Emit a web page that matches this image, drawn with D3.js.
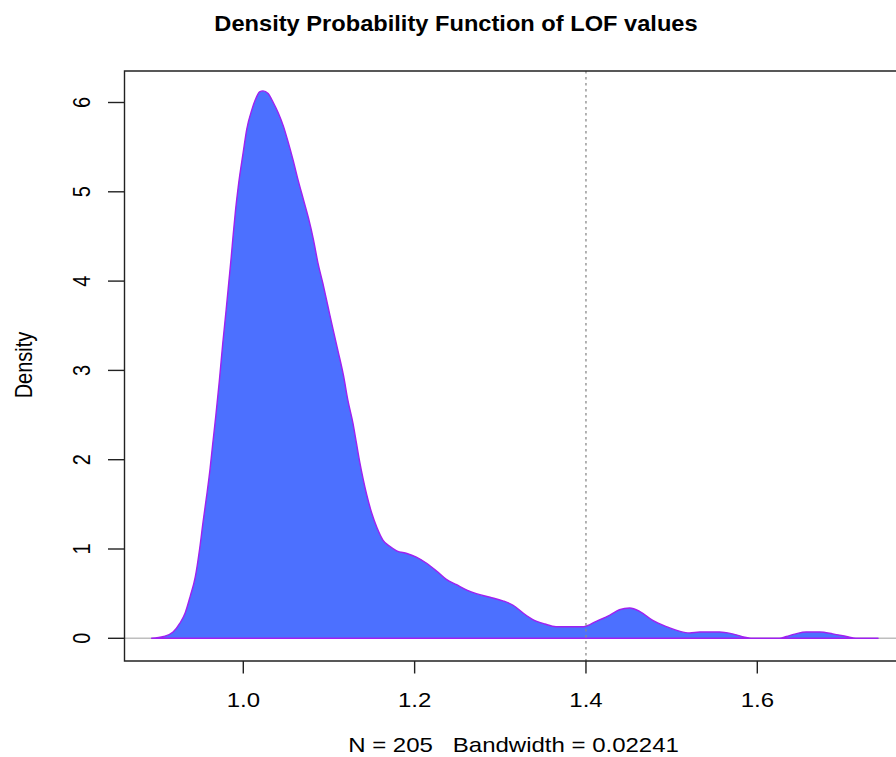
<!DOCTYPE html>
<html>
<head>
<meta charset="utf-8">
<script src="https://cdn.jsdelivr.net/npm/d3@7/dist/d3.min.js"></script>
<style>
  html, body { margin: 0; padding: 0; background: #fff; }
  svg { display: block; }
  text { font-family: "Liberation Sans", Arial, Helvetica, sans-serif; fill: #000; }
</style>
</head>
<body>
<svg id="chart" width="896" height="757"></svg>
<script>
// Kernel density estimate of LOF scores (N = 205, bw = 0.02241)
const lofValues = [
  0.893, 0.907, 0.918, 0.926, 0.932, 0.938, 0.944, 0.949, 0.953, 0.957,
  0.961, 0.964, 0.968, 0.972, 0.976, 0.980, 0.983, 0.986, 0.988, 0.991,
  0.994, 1.000, 1.004, 1.010, 1.014, 1.019, 1.023, 1.029, 1.035, 1.041,
  1.047, 1.052, 1.058, 1.064, 1.070, 1.076, 1.082, 1.087, 1.093, 1.099,
  1.105, 1.111, 1.117, 1.122, 1.128, 1.132, 1.136, 1.140, 1.144, 1.150,
  1.156, 1.163, 1.171, 1.179, 1.191, 1.202, 1.214, 1.226, 1.237, 1.249,
  1.261, 1.272, 1.288, 1.303, 1.315, 1.327, 1.338, 1.352, 1.365, 1.397,
  1.412, 1.428, 1.439, 1.451, 1.463, 1.478, 1.494, 1.509, 1.521, 1.533,
  1.556, 1.571, 1.587, 1.595, 1.626, 1.634, 1.645, 1.657, 1.673, 1.688,
  1.704, 1.715, 1.741
];
const densityValues = [
  0.00, 0.02, 0.07, 0.17, 0.28, 0.47, 0.69, 1.00, 1.30, 1.58,
  1.88, 2.15, 2.50, 2.88, 3.30, 3.68, 3.98, 4.28, 4.50, 4.80,
  5.05, 5.45, 5.70, 5.92, 6.03, 6.12, 6.13, 6.10, 6.00, 5.88,
  5.73, 5.57, 5.36, 5.13, 4.92, 4.71, 4.46, 4.21, 3.97, 3.71,
  3.45, 3.20, 2.94, 2.67, 2.41, 2.19, 1.97, 1.78, 1.61, 1.40,
  1.24, 1.10, 1.03, 0.98, 0.95, 0.91, 0.84, 0.75, 0.66, 0.60,
  0.54, 0.50, 0.46, 0.42, 0.37, 0.28, 0.21, 0.16, 0.13, 0.13,
  0.19, 0.26, 0.32, 0.34, 0.30, 0.20, 0.13, 0.08, 0.06, 0.07,
  0.07, 0.05, 0.01, 0.00, 0.00, 0.02, 0.05, 0.07, 0.07, 0.05,
  0.02, 0.00, 0.00
];
const xTicks = [1.0, 1.2, 1.4, 1.6];
const yTicks = [0, 1, 2, 3, 4, 5, 6];
const thresholdLof = 1.4;
const sampleSize = 205;
const bandwidth = 0.02241;
const titleText = "Density Probability Function of LOF values";
const yLabel = "Density";

const svg = d3.select("#chart");
const W = 896;

// plot region (extends past the right edge of the page)
const box = { left: 124.5, right: 907.8, top: 71, bottom: 661 };
const textStretch = 1.2;

const x = d3.scaleLinear().domain([1.0, 1.6]).range([243.3, 757.3]);
const y = d3.scaleLinear().domain([0, 6]).range([638.3, 102.5]);

const pts = lofValues.map((v, i) => ({ x: v, d: densityValues[i] }));

// zero reference line
svg.append("line")
  .attr("x1", box.left).attr("x2", W)
  .attr("y1", y(0)).attr("y2", y(0))
  .attr("stroke", "#bebebe").attr("stroke-width", 1.5);

// filled density polygon
const area = d3.area()
  .x(p => x(p.x))
  .y0(y(0))
  .y1(p => y(p.d))
  .curve(d3.curveMonotoneX);

svg.append("path")
  .datum(pts)
  .attr("d", area)
  .attr("fill", "#4c70ff")
  .attr("stroke", "#a020f0")
  .attr("stroke-width", 1.4)
  .attr("stroke-linejoin", "round");

// threshold marker
svg.append("line")
  .attr("x1", x(thresholdLof)).attr("x2", x(thresholdLof))
  .attr("y1", box.top).attr("y2", box.bottom)
  .attr("stroke", "#8a8a8a").attr("stroke-width", 1.3)
  .attr("stroke-dasharray", "2.5,3.5");

// frame
svg.append("path")
  .attr("d", `M${box.right},${box.top}H${box.left}V${box.bottom}H${box.right}`)
  .attr("fill", "none").attr("stroke", "#222").attr("stroke-width", 1.4);

// x axis ticks and labels
const xAxis = svg.append("g");
xTicks.forEach(t => {
  xAxis.append("line")
    .attr("x1", x(t)).attr("x2", x(t))
    .attr("y1", box.bottom).attr("y2", box.bottom + 12.5)
    .attr("stroke", "#222").attr("stroke-width", 1.4);
  xAxis.append("text")
    .attr("transform", `translate(${x(t)},706.5) scale(${textStretch},1)`)
    .attr("text-anchor", "middle")
    .attr("font-size", 20)
    .text(d3.format(".1f")(t));
});

// y axis ticks and labels (parallel to the axis)
const yAxis = svg.append("g");
yTicks.forEach(t => {
  yAxis.append("line")
    .attr("x1", box.left - 16.5).attr("x2", box.left)
    .attr("y1", y(t)).attr("y2", y(t))
    .attr("stroke", "#222").attr("stroke-width", 1.4);
  yAxis.append("text")
    .attr("transform", `translate(90,${y(t)}) scale(${textStretch},1) rotate(-90)`)
    .attr("text-anchor", "middle")
    .attr("font-size", 20)
    .text(t);
});

// titles
svg.append("text")
  .attr("transform", `translate(456,30.7) scale(1.075,1)`)
  .attr("text-anchor", "middle")
  .attr("font-size", 22)
  .attr("font-weight", "bold")
  .text(titleText);

svg.append("text")
  .attr("transform", `translate(31.5,365) scale(${textStretch},1) rotate(-90)`)
  .attr("text-anchor", "middle")
  .attr("font-size", 20)
  .text(yLabel);

svg.append("text")
  .attr("transform", `translate(513.5,751.5) scale(${textStretch},1)`)
  .attr("text-anchor", "middle")
  .attr("font-size", 20)
  .attr("xml:space", "preserve")
  .style("white-space", "pre")
  .text(`N = ${sampleSize}   Bandwidth = ${bandwidth}`);
</script>
</body>
</html>
